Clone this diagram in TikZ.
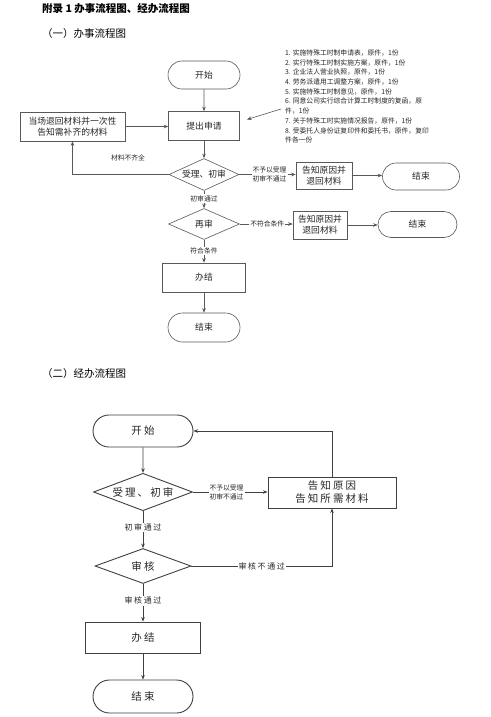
\documentclass[tikz,border=0pt]{standalone}
\usepackage{fontspec}
\setmainfont{Noto Sans CJK SC}
\newfontfamily\spaced[LetterSpace=20]{Noto Sans CJK SC}
\usetikzlibrary{shapes.geometric,shapes.misc,arrows.meta}
\tikzset{
  ln/.style={draw=black!65, line width=0.6pt},
  arr/.style={ln, -{Stealth[length=4.5pt,width=3.6pt]}},
  term/.style={rounded rectangle, draw=black!65, line width=0.6pt, inner sep=0pt, align=center},
  proc/.style={rectangle, draw=black!65, line width=0.6pt, inner sep=0pt, align=center},
  dec/.style={diamond, draw=black!65, line width=0.6pt, inner sep=0pt, aspect=2.2, align=center},
  txta/.style={font=\fontsize{8.8}{11}\selectfont, text=black!85},
  lbla/.style={fill=white, inner sep=1pt, align=center, text=black!85, font=\fontsize{6.8}{8.6}\selectfont},
  heavy/.style={line width=0.9pt, draw=black!75},
  txtb/.style={font=\spaced\fontsize{10.5}{13}\selectfont, text=black!85},
  lblb/.style={fill=white, inner sep=1pt, align=center, text=black!85, font=\spaced\fontsize{8}{9.5}\selectfont},
  lblc/.style={fill=white, inner sep=1pt, align=center, text=black!85, font=\fontsize{6.8}{9}\selectfont},
  head/.style={anchor=west, inner sep=0pt, font=\fontsize{10.5}{12}\selectfont},
}
\begin{document}
\begin{tikzpicture}[x=1pt, y=-1pt]
\useasboundingbox (0,0) rectangle (490,717);
\fill[white] (0,0) rectangle (490,717);

% headings
\node[head, font=\bfseries\fontsize{10.5}{12}\selectfont] (title) at (42,9) {附录 1 办事流程图、经办流程图};
\node[head] (h1) at (42,34) {（一）办事流程图};
\node[head] (h2) at (42,374) {（二）经办流程图};

% ---------- chart 1 ----------
\node[term, txta, minimum width=72, minimum height=28] (s1) at (204,75) {开始};
\node[proc, txta, minimum width=71, minimum height=29] (apply) at (204,126) {提出申请};
\node[proc, txta, minimum width=105, minimum height=29] (back) at (72.5,126.5) {当场退回材料并一次性\\告知需补齐的材料};
\node[dec, txta, minimum width=70, minimum height=32] (d1) at (204,174.5) {受理、初审};
\node[proc, txta, minimum width=56, minimum height=27] (r1) at (324,175.5) {告知原因并\\退回材料};
\node[term, txta, minimum width=77, minimum height=27] (e1) at (421,176.5) {结束};
\node[dec, txta, minimum width=71, minimum height=31] (d2) at (204,224) {再审};
\node[proc, txta, minimum width=54, minimum height=28] (r2) at (320,225) {告知原因并\\退回材料};
\node[term, txta, minimum width=79, minimum height=26] (e2) at (417.5,224.5) {结束};
\node[proc, txta, minimum width=83, minimum height=29] (done1) at (204,277.5) {办结};
\node[term, txta, minimum width=72, minimum height=29] (e3) at (204,327.5) {结束};

\node[anchor=north west, align=left, inner sep=0pt, text=black!85,
      font=\fontsize{6.8}{9.7}\selectfont] (list) at (285,49.5) {%
1. 实施特殊工时制申请表，原件，1份\\
2. 实行特殊工时制实施方案，原件，1份\\
3. 企业法人营业执照，原件，1份\\
4. 劳务派遣用工调整方案，原件，1份\\
5. 实施特殊工时制意见，原件，1份\\
6. 同意公司实行综合计算工时制度的复函，原\\
件，1份\\
7. 关于特殊工时实施情况报告，原件，1份\\
8. 受委托人身份证复印件和委托书，原件，复印\\
件各一份};
\coordinate (lsrc) at (281,109);
\coordinate (ltip) at (247,119.5);
\draw[arr] (lsrc) -- (ltip);

\draw[arr] (s1) -- (apply);
\draw[arr] (back.east) -- (back.east -| apply.west);
\draw[arr] (apply) -- (d1);
\draw[arr] (d1.west) -| (back.south);
\node[lbla, fill=none] (lm) at (128,158) {材料不齐全};
\draw[arr] (d1.east) -- node[lbla, xshift=2pt] (l1) {不予以受理\\初审不通过} (r1.west |- d1.east);
\draw[arr] (r1.east) -- (e1.west |- r1.east);
\draw[arr] (d1.south) -- node[lbla, pos=0.45] (l2) {初审通过} (d2.north);
\draw[arr] (d2.east) -- node[lbla, xshift=1pt] (l3) {不符合条件} (r2.west |- d2.east);
\draw[arr] (r2.east) -- (e2.west |- r2.east);
\draw[arr] (d2.south) -- node[lbla, pos=0.5] (l4) {符合条件} (done1.north);
\draw[arr] (done1) -- (e3);

% ---------- chart 2 ----------
\begin{scope}[ln/.append style={heavy}]
\node[term, heavy, txtb, minimum width=100, minimum height=32] (s2) at (143,431) {开始};
\node[dec, heavy, txtb, minimum width=99, minimum height=36] (d3) at (143,492) {受理、初审};
\node[proc, heavy, txtb, minimum width=128, minimum height=31] (info) at (332,492.5) {告知原因\\告知所需材料};
\node[dec, heavy, txtb, minimum width=96, minimum height=35] (d4) at (143,566) {审核};
\node[proc, heavy, txtb, minimum width=115, minimum height=31] (done2) at (143,637.5) {办结};
\node[term, heavy, txtb, minimum width=100, minimum height=33] (e4) at (143,696.5) {结束};

\draw[arr] (s2) -- (d3);
\draw[arr] (d3.east) -- node[lblc, pos=0.45] (l5) {不予以受理\\初审不通过} (info.west |- d3.east);
\draw[arr] (info.north) |- (s2.east);
\draw[arr] (d3.south) -- node[lblb, pos=0.45] (l6) {初审通过} (d4.north);
\draw[arr] (d4.east) -| node[lblb, pos=0.25] (l7) {审核不通过} (info.south);
\draw[arr] (d4.south) -- node[lblb, pos=0.45] (l8) {审核通过} (done2.north);
\draw[arr] (done2) -- (e4);
\end{scope}
\end{tikzpicture}
\end{document}
